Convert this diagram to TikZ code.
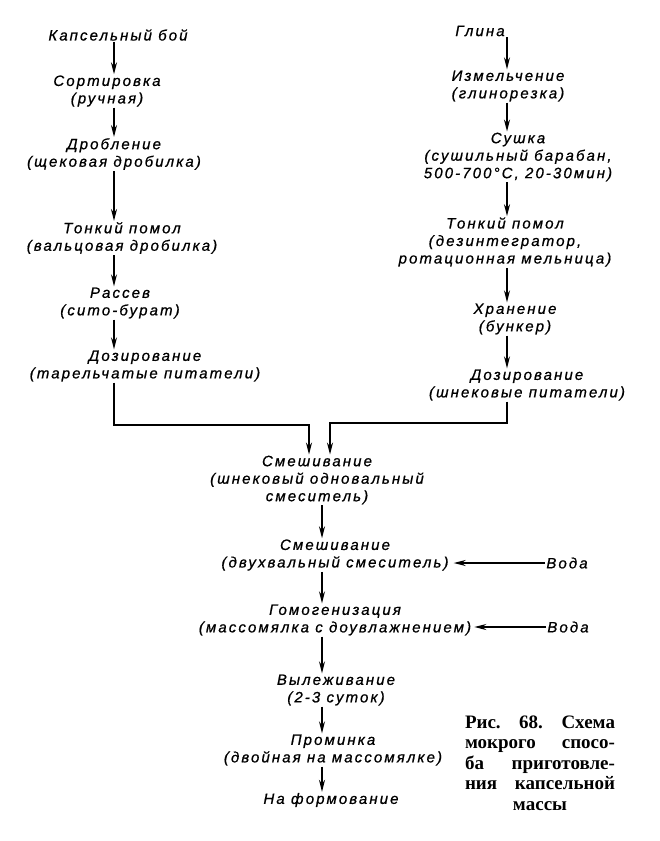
\documentclass[tikz,border=0pt]{standalone}
\usepackage{fontspec}
\usepackage{tikz}
\usetikzlibrary{positioning, arrows.meta}
\newfontfamily\gostfont{Liberation Sans}[LetterSpace=14, FakeBold=0.8]
\newfontfamily\capfont{Liberation Serif}

\begin{document}
\begin{tikzpicture}[x=1pt, y=-1pt,
    stage/.style={align=center, inner sep=1pt, font=\gostfont\itshape\fontsize{15}{17.5}\selectfont},
    flow/.style={-{Stealth[length=12pt,width=6pt]}, line width=1.5pt},
    caption/.style={text width=150pt, align=left, inner sep=0pt, font=\capfont\bfseries\fontsize{19}{20.5}\selectfont}]
  \fill[white] (0,0) rectangle (660,841);
  \coordinate (colL) at (114,0);
  \coordinate (colR) at (507,0);
  \coordinate (colC) at (322,0);
  \coordinate (jL) at (309,425);
  \coordinate (jR) at (330,423);

  \node[stage] (kb)    at (118,35)  {Капсельный бой};
  \node[stage] (sort)  at (107,91)  {Сортировка\\(ручная)};
  \node[stage] (drob)  at (114,154) {Дробление\\(щековая дробилка)};
  \node[stage] (tonL)  at (122,238) {Тонкий помол\\(вальцовая дробилка)};
  \node[stage] (rass)  at (120,303) {Рассев\\(сито-бурат)};
  \node[stage] (dozL)  at (145,366) {Дозирование\\(тарельчатые питатели)};

  \node[stage] (glina) at (480,31)  {Глина};
  \node[stage] (izm)   at (508,86)  {Измельчение\\(глинорезка)};
  \node[stage] (sush)  at (518,157) {Сушка\\(сушильный барабан,\\500-700°С, 20-30мин)};
  \node[stage] (tonR)  at (505,242) {Тонкий помол\\(дезинтегратор,\\ротационная мельница)};
  \node[stage] (hran)  at (515,319) {Хранение\\(бункер)};
  \node[stage] (dozR)  at (527,385) {Дозирование\\(шнековые питатели)};

  \node[stage] (mix1)  at (317,480) {Смешивание\\(шнековый одновальный\\смеситель)};
  \node[stage] (mix2)  at (335,555) {Смешивание\\(двухвальный смеситель)};
  \node[stage] (gomo)  at (335,620) {Гомогенизация\\(массомялка с доувлажнением)};
  \node[stage] (vyl)   at (336,690) {Вылеживание\\(2-3 суток)};
  \node[stage] (prom)  at (333,750) {Проминка\\(двойная на массомялке)};
  \node[stage] (form)  at (331,800) {На формование};

  \node[stage] (voda1) at (567,563) {Вода};
  \node[stage] (voda2) at (568,627) {Вода};

  \node[caption] (cap) at (540,763) {Рис.\hfill 68.\hfill Схема\\
    мокрого\hfill спосо-\\
    ба\hfill приготовле-\\
    ния\hfill капсельной\\
    \makebox[\linewidth][c]{массы}};

  \draw[flow] (kb.south -| colL) -- (sort.north -| colL);
  \draw[flow] (sort.south -| colL) -- (drob.north -| colL);
  \draw[flow] (drob.south -| colL) -- (tonL.north -| colL);
  \draw[flow] (tonL.south -| colL) -- (rass.north -| colL);
  \draw[flow] (rass.south -| colL) -- (dozL.north -| colL);
  \draw[flow] (dozL.south -| colL) |- (jL) -- (mix1.north -| jL);

  \draw[flow] (glina.south -| colR) -- (izm.north -| colR);
  \draw[flow] (izm.south -| colR) -- (sush.north -| colR);
  \draw[flow] (sush.south -| colR) -- (tonR.north -| colR);
  \draw[flow] (tonR.south -| colR) -- (hran.north -| colR);
  \draw[flow] (hran.south -| colR) -- (dozR.north -| colR);
  \draw[flow] (dozR.south -| colR) |- (jR) -- (mix1.north -| jR);

  \draw[flow] (mix1.south -| colC) -- (mix2.north -| colC);
  \draw[flow] (mix2.south -| colC) -- (gomo.north -| colC);
  \draw[flow] (gomo.south -| colC) -- (vyl.north -| colC);
  \draw[flow] (vyl.south -| colC) -- (prom.north -| colC);
  \draw[flow] (prom.south -| colC) -- (form.north -| colC);

  \draw[flow, shorten >=4pt] (voda1.west) -- (voda1.west -| mix2.east);
  \draw[flow, shorten >=2pt] (voda2.west) -- (voda2.west -| gomo.east);
\end{tikzpicture}
\end{document}
